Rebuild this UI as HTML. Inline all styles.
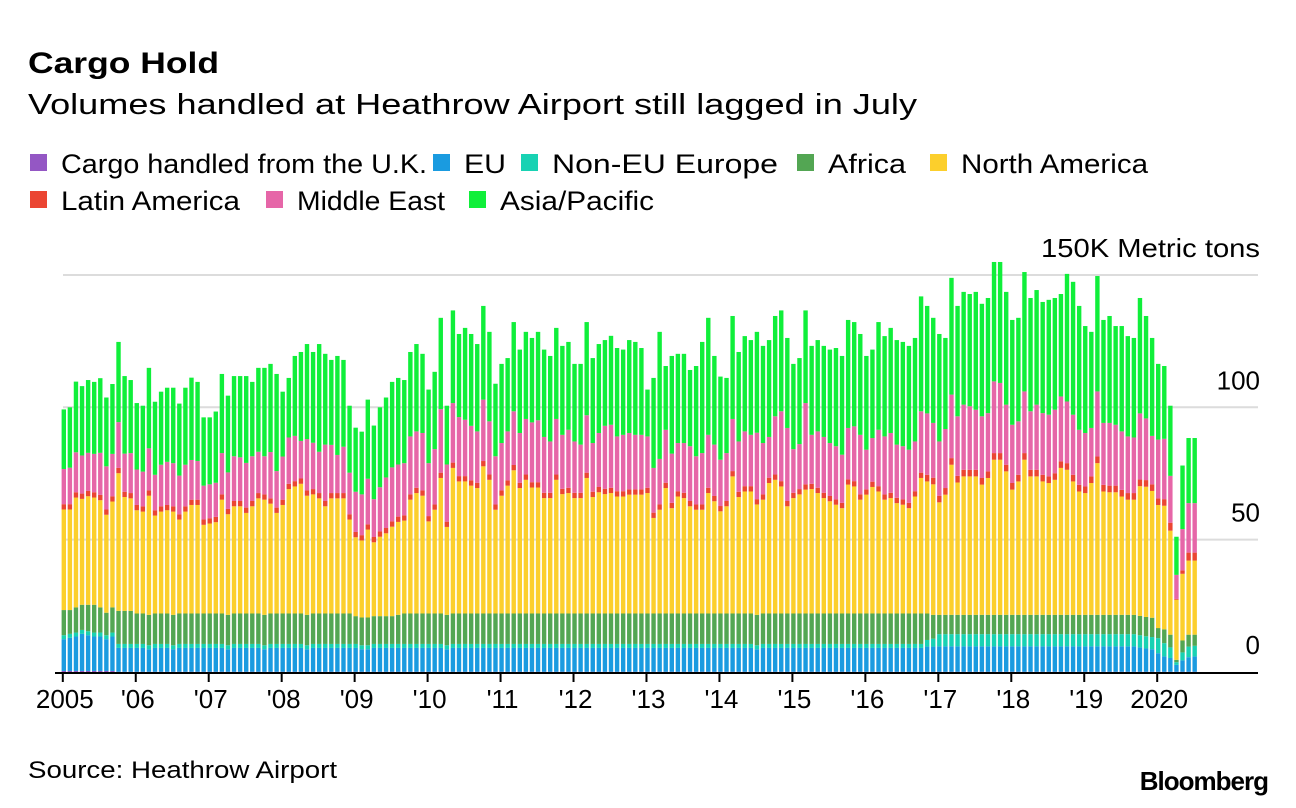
<!DOCTYPE html>
<html><head><meta charset="utf-8">
<style>
body{margin:0;background:#fff;}
#wrap{position:relative;width:1296px;height:808px;overflow:hidden;font-family:"Liberation Sans",sans-serif;color:#000;}
svg{position:absolute;left:0;top:0;}
</style></head>
<body>
<div id="wrap">
<svg id="chart" width="1296" height="808">
  <text x="28" y="73" font-size="30" font-weight="bold" textLength="191" lengthAdjust="spacingAndGlyphs" font-family="Liberation Sans, sans-serif">Cargo Hold</text>
  <text x="28" y="114" font-size="29" textLength="889" lengthAdjust="spacingAndGlyphs" font-family="Liberation Sans, sans-serif">Volumes handled at Heathrow Airport still lagged in July</text>
  <g id="legend"></g>
  <g id="grid"></g>
  <g id="bars"></g>
  <g id="axis"></g>
  <text x="28" y="778" font-size="24" textLength="309" lengthAdjust="spacingAndGlyphs" font-family="Liberation Sans, sans-serif">Source: Heathrow Airport</text>
  <text x="1268" y="790" font-size="26" font-weight="bold" text-anchor="end" letter-spacing="-1" font-family="Liberation Sans, sans-serif">Bloomberg</text>
</svg>
</div>
<script>
const yearLabels = ["2005","'06","'07","'08","'09","'10","'11","'12","'13","'14","'15","'16","'17","'18","'19","2020"];
const yTicks = [0,50,100,150];
const yTickLabels = ["0","50","100","150K Metric tons"];
const seriesNames = ["Cargo handled from the U.K.","EU","Non-EU Europe","Africa","North America","Latin America","Middle East","Asia/Pacific"];

const uk = [0.4,0.4,0.4,0.4,0.4,0.4,0.4,0.4,0.4,0.1,0.1,0.1,
0.1,0.1,0.1,0.1,0.1,0.1,0.1,0.1,0.1,0.1,0.1,0.1,
0.1,0.1,0.1,0.1,0.1,0.1,0.1,0.1,0.1,0.1,0.1,0.1,
0.1,0.1,0.1,0.1,0.1,0.1,0.1,0.1,0.1,0.1,0.1,0.1,
0.1,0.1,0.1,0.1,0.1,0.1,0.1,0.1,0.1,0.1,0.1,0.1,
0.1,0.1,0.1,0.1,0.1,0.1,0.1,0.1,0.1,0.1,0.1,0.1,
0.1,0.1,0.1,0.1,0.1,0.1,0.1,0.1,0.1,0.1,0.1,0.1,
0.1,0.1,0.1,0.1,0.1,0.1,0.1,0.1,0.1,0.1,0.1,0.1,
0.1,0.1,0.1,0.1,0.1,0.1,0.1,0.1,0.1,0.1,0.1,0.1,
0.1,0.1,0.1,0.1,0.1,0.1,0.1,0.1,0.1,0.1,0.1,0.1,
0.1,0.1,0.1,0.1,0.1,0.1,0.1,0.1,0.1,0.1,0.1,0.1,
0.1,0.1,0.1,0.1,0.1,0.1,0.1,0.1,0.1,0.1,0.1,0.1,
0.1,0.1,0.1,0.1,0.1,0.1,0.1,0.1,0.1,0.1,0.1,0.1,
0.1,0.1,0.1,0.1,0.1,0.1,0.1,0.1,0.1,0.1,0.1,0.1,
0.1,0.1,0.1,0.1,0.1,0.1,0.1,0.1,0.1,0.1,0.1,0.1,
0.1,0.1,0.1,0.1,0.1,0.1,0.1];
const eu = [12,12.5,13,14,13.5,13,13,12,13,9,9,9,
9,9,8.5,9,9,9,8.5,9,9,9,9,9,
9,9,9,8.5,9,9,9,9,9,8.5,9,9,
9,9,9,9,8.5,9,9,9,9,9,9,9,
9,8.5,8.5,9,9,9,9,9,9,9,9,9,
9,9,9,8.5,9,9,9,9,9,9,9,9,
9,9,9,9,9,9,9,9,9,9,9,9,
9,9,9,9,9,9,9,9,9,9,9,9,
9,9,9,9,9,9,9,9,9,9,9,9,
9,9,9,9,9,9,8.5,9,9,9,9,9,
9,9,9,9,9,9,9,9,9,9,9,9,
9,9,9,9,9,9,9,9,9,9,9.5,9.5,
9.6,9.6,9.6,9.6,9.6,9.6,9.6,9.6,9.6,9.6,9.6,9.6,
9.6,9.6,9.6,9.6,9.6,9.6,9.6,9.6,9.6,9.6,9.6,9.6,
9.6,9.6,9.6,9.6,9.6,9.6,9.6,9.6,9.6,9.2,8.8,8.5,
7,5.8,5.2,2.6,4.3,5.5,5.8];
const nonEu = [1.5,1.5,1.5,1.5,1.5,1.5,1.5,1.5,1.5,1.5,1.5,1.5,
1.5,1.5,1.5,1.5,1.5,1.5,1.5,1.5,1.5,1.5,1.5,1.5,
1.5,1.5,1.5,1.5,1.5,1.5,1.5,1.5,1.5,1.5,1.5,1.5,
1.5,1.5,1.5,1.5,1.5,1.5,1.5,1.5,1.5,1.5,1.5,1.5,
1.5,1.5,1.5,1.5,1.5,1.5,1.5,1.5,1.5,1.5,1.5,1.5,
1.5,1.5,1.5,1.5,1.5,1.5,1.5,1.5,1.5,1.5,1.5,1.5,
1.5,1.5,1.5,1.5,1.5,1.5,1.5,1.5,1.5,1.5,1.5,1.5,
1.5,1.5,1.5,1.5,1.5,1.5,1.5,1.5,1.5,1.5,1.5,1.5,
1.5,1.5,1.5,1.5,1.5,1.5,1.5,1.5,1.5,1.5,1.5,1.5,
1.5,1.5,1.5,1.5,1.5,1.5,1.5,1.5,1.5,1.5,1.5,1.5,
1.5,1.5,1.5,1.5,1.5,1.5,1.5,1.5,1.5,1.5,1.5,1.5,
1.5,1.5,1.5,1.5,1.5,1.5,1.5,1.5,1.5,1.5,2.5,3,
4.6,4.6,4.6,4.6,4.6,4.6,4.6,4.6,4.6,4.6,4.6,4.6,
4.6,4.6,4.6,4.6,4.6,4.6,4.6,4.6,4.6,4.6,4.6,4.6,
4.6,4.6,4.6,4.6,4.6,4.6,4.6,4.6,4.6,4.6,4.6,4.6,
5.7,5,4,1,3,4,4];
const africa = [9.5,9,9.5,9.5,10,10.5,9.5,8.5,9.5,12.5,12.5,12.5,
11.5,11.5,11.5,11.5,11.5,11.5,11.5,11.5,11.5,11.5,11.5,11.5,
11.5,11.5,11.5,11.5,11.5,11.5,11.5,11.5,11.5,11.5,11.5,11.5,
11.5,11.5,11.5,11.5,11.5,11.5,11.5,11.5,11.5,11.5,11.5,11.5,
10.5,10.5,10.5,10.5,10.5,10.5,10.5,11,11.5,11.5,11.5,11.5,
11.5,11.5,11.5,11.5,11.5,11.5,11.5,11.5,11.5,11.5,11.5,11.5,
11.5,11.5,11.5,11.5,11.5,11.5,11.5,11.5,11.5,11.5,11.5,11.5,
11.5,11.5,11.5,11.5,11.5,11.5,11.5,11.5,11.5,11.5,11.5,11.5,
11.5,11.5,11.5,11.5,11.5,11.5,11.5,11.5,11.5,11.5,11.5,11.5,
11.5,11.5,11.5,11.5,11.5,11.5,11.5,11.5,11.5,11.5,11.5,11.5,
11.5,11.5,11.5,11.5,11.5,11.5,11.5,11.5,11.5,11.5,11.5,11.5,
11.5,11.5,11.5,11.5,11.5,11.5,11.5,11.5,11.5,11.5,10,9,
7.3,7.3,7.3,7.3,7.3,7.3,7.3,7.3,7.3,7.3,7.3,7.3,
7.3,7.3,7.3,7.3,7.3,7.3,7.3,7.3,7.3,7.3,7.3,7.3,
7.3,7.3,7.3,7.3,7.3,7.3,7.3,7.3,7.3,7.3,7.3,7.3,
3.8,5.2,4.8,0.9,4.5,4.5,4.2];
const northAmerica = [38,38,41.5,40,41,40.5,40.5,37,40,52,43,42.5,
39,38.5,45,37,38.5,39,39,35.5,38.5,41,41,33.5,
34,34.5,43,38,40.5,40.5,38,40.5,43.5,43.5,41.5,38,
41,47,48,49,45,45,43.5,40.5,43.5,43.5,43.5,35.5,
29.8,29.1,33.2,27.9,30,31.3,33.8,35.1,35.1,43,45.5,44.5,
34.8,39.2,51.2,33.2,55,49.9,49.9,48.3,47.4,55.6,50.5,39.2,
44.5,48.3,54.1,47.4,50.5,47.6,47.6,43.6,43.6,50.5,45.1,45.5,
43.6,43.6,51.2,44,45.8,45.1,45.5,44.2,44.2,44.9,44.9,44.9,
45.5,36.1,39.2,47.4,39.8,44.2,43.6,40.5,39.2,39.2,45.5,42.4,
38.6,40.5,51.8,44,46.1,46.1,41.7,43,49.3,50.5,48,40.5,
43.6,45,46.8,47,45.5,43.6,42.4,41.1,39.8,48.7,48,43,
44.9,47.8,46.1,43,43.6,41.7,41.1,39.8,44.2,51.2,49.9,49.3,
42.5,45.4,56.7,50,52.3,52.3,52.3,49.2,51.7,58.6,58.6,54.2,
47.3,50.4,58.6,52.3,52.3,50.4,49.8,51,55.5,54.8,50.4,46.6,
46,49.8,57.3,46.6,46.3,46.3,44.7,43.5,43.5,49,49.2,47.9,
46.5,46.7,39.3,22.7,25.2,28,28];
const latinAmerica = [2,2,2,2,2,2,2,2,2,2,2,2,
2,2,2,2,2,2,2,2,2,2,2,2,
2,2,2,2,2,2,2,2,2,2,2,2,
2,2,2,2,2,2,2,2,2,2,2,2,
2,2,2,2,2,2,2,2,2,2,2,2,
2,2,2,2,2,2,2,2,2,2,2,2,
2,2,2,2,2,2,2,2,2,2,2,2,
2,2,2,2,2,2,2,2,2,2,2,2,
2,2,2,2,2,2,2,2,2,2,2,2,
2,2,2,2,2,2,2,2,2,2,2,2,
2,2,2,2,2,2,2,2,2,2,2,2,
2,2,2,2,2,2,2,2,2,2,2.5,2.5,
2.5,2.5,2.5,2.5,2.5,2.5,2.5,2.5,2.5,2.5,2.5,2.5,
2.5,2.5,2.5,2.5,2.5,2.5,2.5,2.5,2.5,2.5,2.5,2.5,
2.5,2.5,2.5,2.5,2.5,2.5,2.5,2.5,2.5,2.5,2.5,2.5,
2.5,2.5,3,0.3,1.3,3,3];
const middleEast = [13.3,13.8,15.1,14.4,14.4,14.5,15.9,16.3,16,17.3,14.4,15.1,
13.4,13.1,15.9,13.4,15.7,16.3,16.3,14.6,15.7,15,14.6,12.8,
12.8,12.9,15.6,13.8,16.9,16.5,16.9,16.9,15.6,14.4,17.5,13.8,
16.3,17.5,17.1,14.2,19.4,17.5,15.6,21.3,18.2,14.4,17.5,15.7,
15.2,15.4,17.2,14.3,16.7,19.1,20.4,19.7,19.7,21.9,21.3,21.7,
20,20.9,24,21.6,22.5,22.3,21.3,20.6,19.4,23.2,20.1,18.2,
17.9,18.5,20.3,18.8,21,22.6,23.4,21.1,19.4,21,20.4,21.9,
19.4,18.2,21.7,18.4,20.4,23.8,23.8,20.7,21.3,21.3,20.6,20.6,
19.4,16.9,17.2,20,18.6,18.2,18.8,20.7,18.2,19.4,20,19.4,
17.5,18.1,19.7,19,20.7,19.4,25.1,19.4,15.4,22,26.4,27.6,
16.5,17,30.7,18.5,21.3,21.1,20,20.1,18.2,19.4,20.7,22.5,
15,16.5,21.3,21.9,22.6,20.1,20.1,20.1,18.8,23.2,23.2,20.7,
20.5,22.3,24,22.5,24.6,24,22.7,23.3,22,27.1,26.5,22.7,
22,20.2,23.3,22.1,24.6,23.3,23.3,24,24.5,23.3,22.7,20.8,
20.2,18.3,24.6,23.4,23.7,23,22.1,21.4,21,25,23.3,18.3,
22.2,22.8,17.7,9.1,15.6,18.7,18.7];
const totalCargo = [99.2,100,109.7,108,110.3,109.6,111,103.7,108.8,124.7,111.8,110.3,
101.6,100.6,114.9,102.1,105.9,107.4,107.4,101.4,107.4,111.2,109.6,96.2,
96.2,98.4,112.6,104.4,111.8,111.8,111.8,109.6,114.9,114.9,116.4,112.6,
105.9,111.1,119.4,120.9,123.9,120.9,123.9,120.2,117.9,119.4,117.9,100.6,
92.3,90.8,102.9,93.1,100,103.7,109.6,111.1,110.3,120.9,123.9,120.2,
106.7,113.4,133.8,100.6,136.6,127.7,130,127.7,123.9,138.3,128.5,108.9,
116.4,118.6,132.2,121.8,128.5,126.2,128.5,121.8,119.4,130,123.2,124.7,
116.4,116.4,132.2,118.6,123.9,125.4,127,122.4,121.8,125.4,124.7,122.4,
106.7,111.1,128.5,115.6,119.4,120.2,120.2,114.1,115.6,124.7,133.8,119.4,
111.6,111.1,134.5,120.9,126.9,125.4,128.5,123.2,125.4,134.5,136.6,126.2,
116.4,118.6,136.6,123.2,125.4,123.2,121.8,122.4,119.4,133,132.2,127.7,
119.4,121.8,132.2,126.9,130,125.4,124.7,123.2,126.2,141.9,138.3,133.8,
127.7,126.2,148.9,138.3,143.6,142.8,143.6,139.1,141.3,154.9,154.9,143.6,
133,133.8,151.1,141.3,144.3,139.8,140.6,141.3,142.8,150.4,147.4,138.3,
130.7,128.5,149.6,133,134.5,130.7,130.7,126.9,126.2,141.3,134.5,126.2,
116.4,115.6,100.6,51.1,78,88.4,88.4];

const colors = ["#9457c4","#1a9be0","#18d2b3","#53a653","#fccf2c","#eb4532","#e666a8","#10ef3a"];
const NS = "http://www.w3.org/2000/svg";
const X0 = 63.8, STEP = 6.08, BW = 4.4, Y0 = 672, PPU = 2.647;
function xPos(i){ return X0 + STEP*i; }
function yPos(v){ return Y0 - v*PPU; }

// legend layout (swatch x, row y, text width)
const legend = document.getElementById('legend');
const legPos = [[30,163,366],[433,163,42],[521,163,226],[797,163,78],[930,163,187],[30,200,179],[266,200,148],[469,200,154]];
seriesNames.forEach((n,k)=>{
  const r = document.createElementNS(NS,'rect');
  r.setAttribute('x',legPos[k][0]); r.setAttribute('y',legPos[k][1]-9);
  r.setAttribute('width',17); r.setAttribute('height',17);
  r.setAttribute('fill',colors[k]);
  
  
  legend.appendChild(r);
  const t = document.createElementNS(NS,'text');
  t.setAttribute('x',legPos[k][0]+31); t.setAttribute('y',legPos[k][1]+10);
  t.setAttribute('font-size','27'); t.setAttribute('font-family','Liberation Sans, sans-serif');
  t.setAttribute('textLength',legPos[k][2]); t.setAttribute('lengthAdjust','spacingAndGlyphs');
  t.textContent = n;
  
  
  legend.appendChild(t);
});

// grid
const grid = document.getElementById('grid');
const yLabelW = [28,40,48,219];
yTicks.forEach((v,k)=>{
  if(v>0){
    const l = document.createElementNS(NS,'line');
    l.setAttribute('x1',63); l.setAttribute('x2',1258);
    l.setAttribute('y1',yPos(v)); l.setAttribute('y2',yPos(v));
    l.setAttribute('stroke','#dcdcdc'); l.setAttribute('stroke-width','2');
    
    
    grid.appendChild(l);
  }
  const t = document.createElementNS(NS,'text');
  t.setAttribute('x',1260); t.setAttribute('y',yPos(v)-18);
  t.setAttribute('text-anchor','end'); t.setAttribute('font-size','26');
  t.setAttribute('font-family','Liberation Sans, sans-serif');
  if(k===3){ t.setAttribute('textLength',yLabelW[k]); t.setAttribute('lengthAdjust','spacingAndGlyphs'); }
  t.textContent = yTickLabels[k];
  
  
  grid.appendChild(t);
});

// bars
const series = [uk,eu,nonEu,africa,northAmerica,latinAmerica,middleEast];
const barsG = document.getElementById('bars');
for(let i=0;i<totalCargo.length;i++){
  let base = 0;
  const segs = series.map(s=>s[i]);
  let sumBelow = segs.reduce((a,b)=>a+b,0);
  segs.push(Math.max(0,totalCargo[i]-sumBelow));
  segs.forEach((v,k)=>{
    if(v<=0) return;
    const r = document.createElementNS(NS,'rect');
    r.setAttribute('x',(xPos(i)-BW/2).toFixed(2));
    r.setAttribute('y',yPos(base+v).toFixed(2));
    r.setAttribute('width',BW);
    r.setAttribute('height',(v*PPU).toFixed(2));
    r.setAttribute('fill',colors[k]);
    
    
    barsG.appendChild(r);
    base += v;
  });
}

// axis
const axis = document.getElementById('axis');
const al = document.createElementNS(NS,'line');
al.setAttribute('x1',55); al.setAttribute('x2',1258);
al.setAttribute('y1',Y0+1); al.setAttribute('y2',Y0+1);
al.setAttribute('stroke','#000'); al.setAttribute('stroke-width','2');


axis.appendChild(al);
yearLabels.forEach((lab,k)=>{
  const x = xPos(k*12)-1;
  const tk = document.createElementNS(NS,'line');
  tk.setAttribute('x1',x); tk.setAttribute('x2',x);
  tk.setAttribute('y1',Y0); tk.setAttribute('y2',Y0+10);
  tk.setAttribute('stroke','#000'); tk.setAttribute('stroke-width','2');
  
  
  axis.appendChild(tk);
  const t = document.createElementNS(NS,'text');
  t.setAttribute('x',x+2); t.setAttribute('y',Y0+36);
  t.setAttribute('text-anchor','middle'); t.setAttribute('font-size','26');
  t.setAttribute('font-family','Liberation Sans, sans-serif');
  t.textContent = lab;
  
  
  axis.appendChild(t);
});
</script>
</body></html>
